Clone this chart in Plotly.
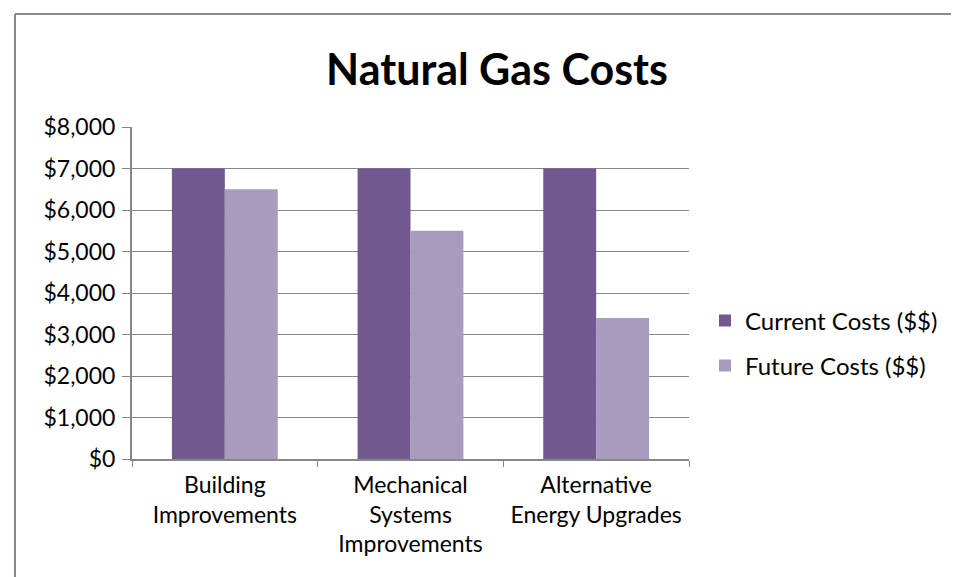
import plotly.graph_objects as go

categories = ["Building<br>Improvements", "Mechanical<br>Systems<br>Improvements", "Alternative<br>Energy Upgrades"]
current_costs = [7000, 7000, 7000]
future_costs = [6500, 5500, 3400]
y_ticks = [0, 1000, 2000, 3000, 4000, 5000, 6000, 7000, 8000]
y_tick_labels = ["$0", "$1,000", "$2,000", "$3,000", "$4,000", "$5,000", "$6,000", "$7,000", "$8,000"]

FONT = "Lato, 'Open Sans', sans-serif"
GRID = "#878787"

W, H = 959, 577
L, R, T, B = 124, 278, 119, 126
pw, ph = W - L - R, H - T - B

fig = go.Figure()
fig.add_trace(go.Bar(x=categories, y=current_costs, name="Current Costs ($$)",
                     marker=dict(color="#715990", line=dict(width=0)), legend="legend"))
fig.add_trace(go.Bar(x=categories, y=future_costs, name="Future Costs ($$)",
                     marker=dict(color="#A99BBE", line=dict(width=0)), legend="legend2"))

leg = dict(xanchor="left", yanchor="middle", font=dict(size=24), itemwidth=30,
           bgcolor="rgba(0,0,0,0)")
fig.update_layout(
    width=W, height=H,
    margin=dict(l=L, r=R, t=T, b=B, autoexpand=False),
    plot_bgcolor="white", paper_bgcolor="white",
    barmode="group", bargap=0.43, bargroupgap=0,
    font=dict(family=FONT, color="#000", size=23),
    title=dict(text="<b>Natural Gas Costs</b>", x=489 / W, xanchor="center",
               y=1 - 62 / H, yanchor="middle", font=dict(size=43, color="#000")),
    legend=dict(x=(697 - L) / pw, y=(H - B - 313) / ph, **leg),
    legend2=dict(x=(697 - L) / pw, y=(H - B - 358) / ph, **leg),
    showlegend=True,
)
fig.update_yaxes(range=[0, 8000], tickvals=y_ticks, ticktext=y_tick_labels,
                 showgrid=True, gridcolor=GRID, gridwidth=1,
                 showline=True, linecolor=GRID, linewidth=2,
                 ticks="outside", ticklen=8, tickcolor=GRID, tickwidth=1,
                 zeroline=False, ticklabelstandoff=2, automargin=False)
fig.update_xaxes(showline=True, linecolor=GRID, linewidth=2, tickangle=0,
                 ticks="outside", tickson="boundaries", ticklen=6, tickcolor=GRID, tickwidth=1,
                 showgrid=False, zeroline=False, automargin=False, ticklabelstandoff=4)

# chart frame (left and top edges visible)
fig.add_shape(type="line", xref="paper", yref="paper",
              x0=(7 - L) / pw, x1=(7 - L) / pw, y0=(H - B - H - 5) / ph, y1=(H - B - 6) / ph,
              line=dict(color="#8a8a8a", width=2))
fig.add_shape(type="line", xref="paper", yref="paper",
              x0=(7 - L) / pw, x1=(W + 5 - L) / pw, y0=(H - B - 6) / ph, y1=(H - B - 6) / ph,
              line=dict(color="#8a8a8a", width=2))

fig.write_html("out.html")
